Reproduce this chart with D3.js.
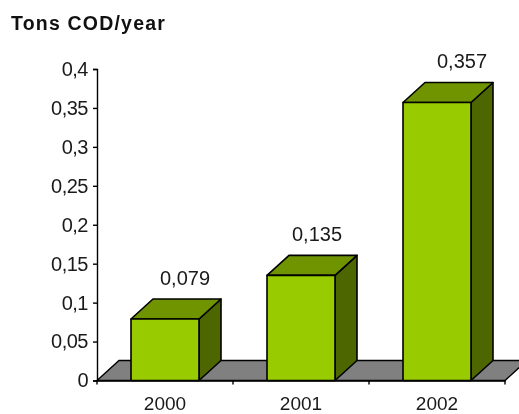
<!DOCTYPE html>
<html><head><meta charset="utf-8">
<script src="https://cdn.jsdelivr.net/npm/d3@7/dist/d3.min.js"></script>
<style>html,body{margin:0;padding:0;background:#fff}svg{display:block;filter:blur(0.35px)}text{font-family:"Liberation Sans",Arial,sans-serif;fill:#1a1a1a}</style>
</head><body><svg id="c" width="519" height="414"></svg>
<script>
const categories = ["2000","2001","2002"];
const values = [0.079,0.135,0.357];
const valueLabels = ["0,079","0,135","0,357"];
const yTicks = [0,0.05,0.1,0.15,0.2,0.25,0.3,0.35,0.4];
const yTickLabels = ["0","0,05","0,1","0,15","0,2","0,25","0,3","0,35","0,4"];
const title = "Tons COD/year";

const svg = d3.select("#c");
const x = d3.scaleBand().domain(categories).range([97,505]).paddingInner(0.5).paddingOuter(0.25);
const y = d3.scaleLinear().domain([0,0.4]).range([380.5,69]);
const dx = 22, dy = 20;
const labelShift = d3.scaleOrdinal().domain(categories).range([20,16,25]);
const line = d3.line();
const bottom = y(0);

svg.append("text").attr("x",11).attr("y",30).attr("font-size",19.5).attr("font-weight","bold")
  .attr("letter-spacing",1.2).style("fill","#111").text(title);

// floor
svg.append("path").attr("d",line([[x.range()[0],bottom],[x.range()[0]+dx,bottom-dy],[x.range()[1]+dx,bottom-dy],[x.range()[1],bottom]])+"Z")
  .attr("fill","#808080").attr("stroke","#000").attr("stroke-width",1.4);

// bars
const g = svg.selectAll("g.bar").data(categories.map((c,i)=>({c,v:values[i],l:valueLabels[i]}))).join("g").attr("class","bar");
g.each(function(d){
  const s = d3.select(this), x0 = x(d.c), x1 = x0 + x.bandwidth(), t = y(d.v);
  const st = p => p.attr("stroke","#000").attr("stroke-width",1.6).attr("stroke-linejoin","round");
  st(s.append("path").attr("d",line([[x1,t],[x1+dx,t-dy],[x1+dx,bottom-dy],[x1,bottom]])+"Z").attr("fill","#4d6600"));
  st(s.append("path").attr("d",line([[x0,t],[x0+dx,t-dy],[x1+dx,t-dy],[x1,t]])+"Z").attr("fill","#6f9400"));
  st(s.append("rect").attr("x",x0).attr("y",t).attr("width",x.bandwidth()).attr("height",bottom-t).attr("fill","#99cc00"));
  s.append("text").attr("x",x0+x.bandwidth()/2+labelShift(d.c)).attr("y",t-dy-14).attr("text-anchor","middle")
    .attr("font-size",20).text(d.l);
});

// axes
const yAxis = d3.axisLeft(y).tickValues(yTicks).tickFormat((d,i)=>yTickLabels[i]).tickSize(4).tickPadding(5);
const ya = svg.append("g").attr("transform","translate(97,0)").call(yAxis);
ya.selectAll("text").attr("font-size",20).attr("letter-spacing",-0.5).attr("dy","0.32em");
ya.selectAll("line,path").attr("stroke","#000").attr("stroke-width",1.4);
ya.attr("font-family",null);

const xAxis = d3.axisBottom(x).tickSize(0).tickPadding(16);
const xa = svg.append("g").attr("transform",`translate(0,${bottom})`).call(xAxis);
xa.selectAll("text").attr("font-size",19).attr("dy","0.71em");
xa.selectAll("path").attr("stroke","#000").attr("stroke-width",1.4);
xa.attr("font-family",null);
// category separators on the x axis
const step = x.step();
xa.selectAll("line.sep").data(d3.range(categories.length+1)).join("line").attr("class","sep")
  .attr("x1",i=>x.range()[0]+i*step).attr("x2",i=>x.range()[0]+i*step).attr("y1",0).attr("y2",4)
  .attr("stroke","#000").attr("stroke-width",1.4);
</script></body></html>
